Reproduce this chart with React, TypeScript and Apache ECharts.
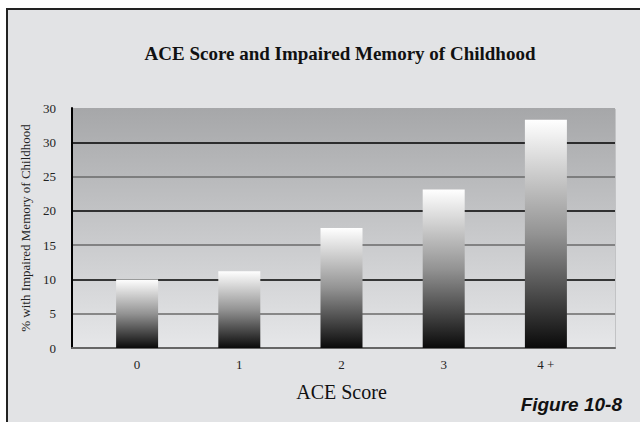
import React, { useEffect, useRef } from "react";
import * as echarts from "echarts";

const categories = ["0", "1", "2", "3", "4 +"];
const impairedMemory = [10.0, 11.2, 17.5, 23.1, 33.3];
const yTickLabels = ["0", "5", "10", "15", "20", "25", "30", "30"];

const SERIF = "'Liberation Serif', 'DejaVu Serif', serif";

export default function App() {
  const ref = useRef<HTMLDivElement>(null);
  useEffect(() => {
    if (!ref.current) return;
    const chart = echarts.init(ref.current, null, { renderer: "svg" });
    chart.setOption({
      animation: false,
      backgroundColor: "#ffffff",
      graphic: [
        {
          type: "rect",
          z: -10,
          shape: { x: 7, y: 9, width: 650, height: 430 },
          style: { fill: "#e2e3e5", stroke: "#222222", lineWidth: 2 },
        },
        {
          type: "rect",
          z: -5,
          shape: { x: 614, y: 109, width: 2, height: 240 },
          style: { fill: "#c2c3c5" },
        },
        {
          type: "text",
          x: 340,
          y: 53,
          style: {
            text: "ACE Score and Impaired Memory of Childhood",
            font: `bold 19px ${SERIF}`,
            fill: "#111111",
            textAlign: "center",
            textVerticalAlign: "middle",
          },
        },
        {
          type: "text",
          x: 622,
          y: 404,
          style: {
            text: "Figure 10-8",
            font: "italic bold 19px 'Liberation Sans', Arial, sans-serif",
            fill: "#111111",
            textAlign: "right",
            textVerticalAlign: "middle",
          },
        },
      ],
      grid: [
        {
          left: 72,
          right: 25,
          top: 108,
          bottom: 74,
          show: true,
          borderWidth: 0,
          backgroundColor: new echarts.graphic.LinearGradient(0, 0, 0, 1, [
            { offset: 0, color: "#a6a7a9" },
            { offset: 1, color: "#e6e7e9" },
          ]),
        },
        { left: 86, right: 43, top: 108, bottom: 74 },
      ],
      xAxis: [
        {
          gridIndex: 0,
          type: "value",
          min: 0,
          max: 1,
          axisLabel: { show: false },
          axisTick: { show: false },
          splitLine: { show: false },
          axisLine: { show: true, lineStyle: { color: "#666666", width: 2 } },
        },
        {
          gridIndex: 1,
          type: "category",
          data: categories,
          axisLine: { show: false },
          axisTick: { show: false },
          axisLabel: {
            margin: 10,
            fontFamily: SERIF,
            fontSize: 13,
            color: "#222222",
          },
          name: "ACE Score",
          nameLocation: "middle",
          nameGap: 34,
          nameTextStyle: { fontFamily: SERIF, fontSize: 20, color: "#111111" },
        },
      ],
      yAxis: [
        {
          gridIndex: 0,
          type: "value",
          min: 0,
          max: 35,
          interval: 5,
          axisLine: { show: true, lineStyle: { color: "#000000", width: 2 } },
          axisTick: { show: false },
          axisLabel: {
            margin: 16,
            fontFamily: SERIF,
            fontSize: 13,
            color: "#222222",
            formatter: (v: number) => yTickLabels[Math.round(v / 5)] ?? "",
          },
          splitLine: {
            show: true,
            showMaxLine: false,
            lineStyle: { color: ["#000000", "#6a6a6a"], width: 1.5 },
          },
          name: "% with Impaired Memory of Childhood",
          nameLocation: "middle",
          nameRotate: 90,
          nameGap: 35,
          nameTextStyle: { fontFamily: SERIF, fontSize: 13, color: "#222222" },
        },
        {
          gridIndex: 1,
          type: "value",
          min: 0,
          max: 35,
          show: false,
          splitLine: { show: false },
        },
      ],
      series: [
        {
          type: "bar",
          xAxisIndex: 1,
          yAxisIndex: 1,
          barWidth: 42,
          data: impairedMemory,
          itemStyle: {
            color: new echarts.graphic.LinearGradient(0, 0, 0, 1, [
              { offset: 0, color: "#ffffff" },
              { offset: 0.5, color: "#939393" },
              { offset: 1, color: "#0a0a0a" },
            ]),
          },
        },
      ],
    });
    return () => chart.dispose();
  }, []);
  return (
    <div
      ref={ref}
      style={{ position: "fixed", left: 0, top: 0, width: 640, height: 422 }}
    />
  );
}
